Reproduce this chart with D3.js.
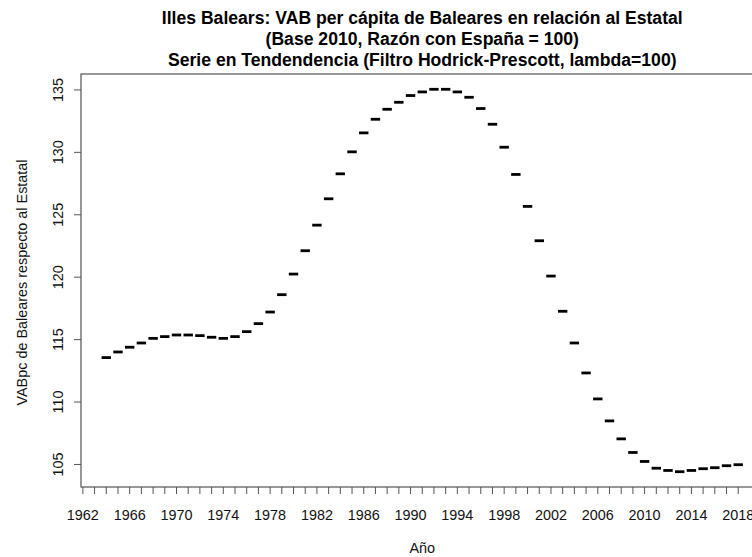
<!DOCTYPE html>
<html>
<head>
<meta charset="utf-8">
<script src="https://cdn.jsdelivr.net/npm/d3@7"></script>
<style>
  html, body { margin: 0; padding: 0; background: #fff; }
  svg { display: block; font-family: "Liberation Sans", Arial, sans-serif; }
</style>
</head>
<body>
<svg id="chart" width="752" height="557"></svg>
<script>
// ---- data ----
const years = [1964,1965,1966,1967,1968,1969,1970,1971,1972,1973,1974,1975,1976,1977,1978,1979,
  1980,1981,1982,1983,1984,1985,1986,1987,1988,1989,1990,1991,1992,1993,1994,1995,1996,1997,1998,1999,
  2000,2001,2002,2003,2004,2005,2006,2007,2008,2009,2010,2011,2012,2013,2014,2015,2016,2017,2018];
const values = [113.56,114.01,114.39,114.73,115.10,115.24,115.37,115.37,115.32,115.19,115.10,115.24,115.64,116.28,117.21,118.60,
  120.25,122.12,124.17,126.28,128.28,130.04,131.56,132.65,133.45,134.01,134.55,134.84,135.05,135.05,134.84,134.41,133.51,132.25,130.41,128.23,
  125.67,122.92,120.09,117.27,114.73,112.33,110.25,108.49,107.05,105.96,105.24,104.70,104.52,104.42,104.52,104.66,104.74,104.90,104.98];
const yTicks = [105,110,115,120,125,130,135];
const xTickYears = d3.range(1962, 2019, 1);
const xLabelYears = d3.range(1962, 2019, 4);
const titleLines = [
  "Illes Balears: VAB per cápita de Baleares en relación al Estatal",
  "(Base 2010, Razón con España = 100)",
  "Serie en Tendendencia (Filtro Hodrick-Prescott, lambda=100)"
];
const xLabel = "Año";
const yLabel = "VABpc de Baleares respecto al Estatal";

// ---- layout ----
const svg = d3.select("#chart");
const pL = 81, pR = 763.5, pT = 74, pB = 487;
const axisCol = "#555";
const fs = 14.4;

function extend(ext) { const r = ext[1] - ext[0]; return [ext[0] - 0.04 * r, ext[1] + 0.04 * r]; }
const x = d3.scaleLinear().domain(extend(d3.extent(years))).range([pL, pR]);
const y = d3.scaleLinear().domain(extend(d3.extent(values))).range([pB, pT]);

// plot box
svg.append("rect").attr("x", pL).attr("y", pT).attr("width", pR - pL).attr("height", pB - pT)
  .attr("fill", "none").attr("stroke", axisCol).attr("stroke-width", 1.2);

// x axis ticks
const gx = svg.append("g");
gx.selectAll("line").data(xTickYears).join("line")
  .attr("x1", d => x(d)).attr("x2", d => x(d)).attr("y1", pB).attr("y2", pB + 7)
  .attr("stroke", axisCol).attr("stroke-width", 1);
gx.selectAll("text").data(xLabelYears).join("text")
  .attr("x", d => x(d)).attr("y", 519.5).attr("text-anchor", "middle")
  .attr("font-size", fs).attr("fill", "#111").text(d => d);

// y axis ticks
const gy = svg.append("g");
gy.selectAll("line").data(yTicks).join("line")
  .attr("x1", pL).attr("x2", pL - 7).attr("y1", d => y(d)).attr("y2", d => y(d))
  .attr("stroke", axisCol).attr("stroke-width", 1);
gy.selectAll("text").data(yTicks).join("text")
  .attr("transform", d => `translate(62.5,${y(d)}) rotate(-90)`)
  .attr("text-anchor", "middle").attr("font-size", fs).attr("fill", "#111").text(d => d);

// points as short dashes (pch "-")
svg.append("g").selectAll("line").data(years).join("line")
  .attr("x1", (d) => x(d) - 4.7).attr("x2", (d) => x(d) + 4.7)
  .attr("y1", (d, i) => y(values[i])).attr("y2", (d, i) => y(values[i]))
  .attr("stroke", "#000").attr("stroke-width", 2.8);

// titles
const cx = (pL + pR) / 2;
const tb = [24, 45, 65.5];
titleLines.forEach((t, i) => {
  svg.append("text").attr("x", cx).attr("y", tb[i]).attr("text-anchor", "middle")
    .attr("font-weight", "bold").attr("font-size", 17.6).attr("fill", "#000").text(t);
});

// axis labels
svg.append("text").attr("x", cx).attr("y", 553).attr("text-anchor", "middle")
  .attr("font-size", fs).attr("fill", "#111").text(xLabel);
svg.append("text").attr("transform", `translate(27,${(pT + pB) / 2 + 2}) rotate(-90)`)
  .attr("text-anchor", "middle").attr("font-size", fs).attr("fill", "#111").text(yLabel);
</script>
</body>
</html>
